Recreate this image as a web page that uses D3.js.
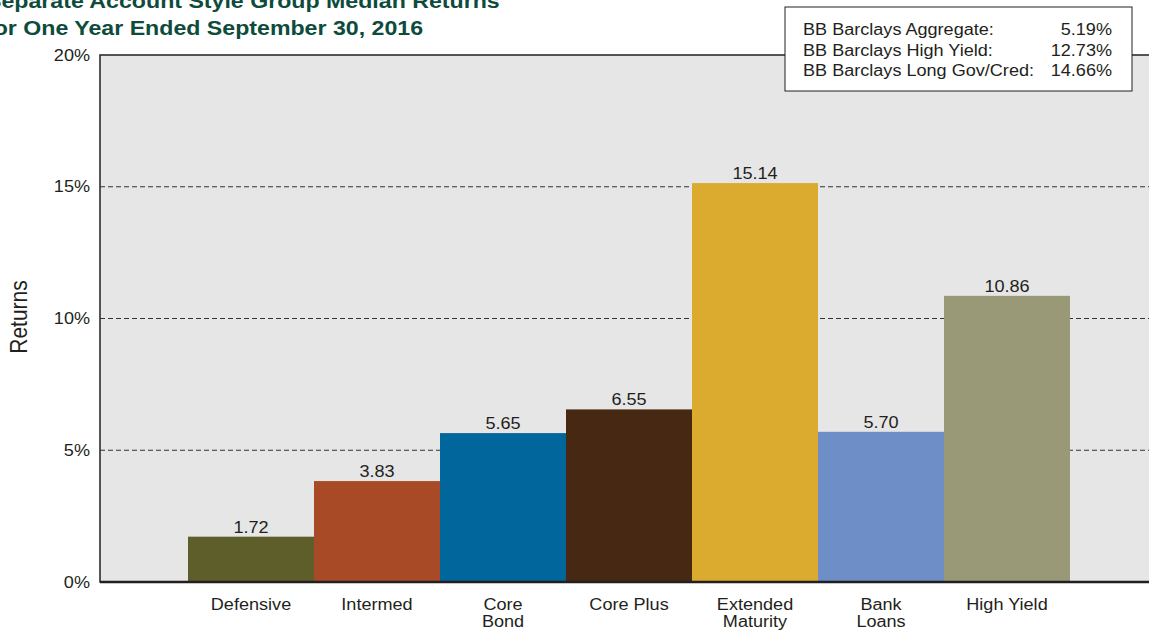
<!DOCTYPE html>
<html><head><meta charset="utf-8">
<script src="https://cdn.jsdelivr.net/npm/d3@7"></script>
<style>
body{margin:0;background:#fff;}
svg{display:block;font-family:"Liberation Sans",Arial,sans-serif;}
</style></head>
<body>
<svg id="chart" width="1149" height="630"></svg>
<script>
const categories = ["Defensive","Intermed","Core\nBond","Core Plus","Extended\nMaturity","Bank\nLoans","High Yield"];
const values = [1.72, 3.83, 5.65, 6.55, 15.14, 5.70, 10.86];
const colors = ["#5e5e2a","#a84a26","#00669c","#472913","#dbab2f","#6e8ec8","#999877"];
const yTicks = [0, 5, 10, 15, 20];
const titleLines = ["Separate Account Style Group Median Returns","for One Year Ended September 30, 2016"];
const legendLabels = ["BB Barclays Aggregate:","BB Barclays High Yield:","BB Barclays Long Gov/Cred:"];
const legendValues = ["5.19%","12.73%","14.66%"];

const SX = 1.13; // horizontal stretch of the reference text
const svg = d3.select("#chart");
const plot = {left:100, right:1165, top:55, bottom:582};
const x = d3.scaleBand().domain(categories).range([188, 1070]).padding(0);
const y = d3.scaleLinear().domain([0,20]).range([plot.bottom, plot.top]);

function stext(g, px, py, str, size, anchor, extra){
  const t = g.append("text")
    .attr("transform",`translate(${px},${py}) scale(${SX},1)` + (extra||""))
    .attr("text-anchor",anchor).attr("font-size",size).attr("fill","#231f20").text(str);
  return t;
}

svg.append("rect").attr("x",plot.left).attr("y",plot.top)
  .attr("width",plot.right-plot.left).attr("height",plot.bottom-plot.top)
  .attr("fill","#e6e6e6").attr("stroke","#231f20").attr("stroke-width",1.5);

// gridlines
svg.append("g").selectAll("line").data(yTicks.filter(d=>d>0 && d<20)).join("line")
  .attr("x1",plot.left).attr("x2",plot.right)
  .attr("y1",d=>y(d)).attr("y2",d=>y(d))
  .attr("stroke","#333").attr("stroke-width",1).attr("stroke-dasharray","5,3");

// bars
svg.append("g").selectAll("rect").data(values).join("rect")
  .attr("x",(d,i)=>x(categories[i]))
  .attr("width",x.bandwidth())
  .attr("y",d=>y(d)).attr("height",d=>y(0)-y(d))
  .attr("fill",(d,i)=>colors[i]);

// bottom axis line
svg.append("line").attr("x1",plot.left).attr("x2",plot.right)
  .attr("y1",plot.bottom).attr("y2",plot.bottom)
  .attr("stroke","#231f20").attr("stroke-width",2.5);

// value labels
const vg = svg.append("g");
values.forEach((d,i)=>{
  stext(vg, x(categories[i])+x.bandwidth()/2, y(d)-4, d.toFixed(2), 16, "middle");
});

// y axis tick labels
const yg = svg.append("g");
yTicks.forEach(d=>{
  stext(yg, plot.left-10, y(d)+5.5, d+"%", 16, "end");
});

// x category labels
const xg = svg.append("g");
categories.forEach((c,i)=>{
  c.split("\n").forEach((ln,j)=>{
    stext(xg, x(c)+x.bandwidth()/2, 610+j*17, ln, 16, "middle");
  });
});

// y axis title
stext(svg, 27, 317, "Returns", 21, "middle", " rotate(-90)");

// title
titleLines.forEach((t,i)=>{
  stext(svg, -14, 8+i*27, t, 20.5, "start").attr("font-weight","bold").attr("fill","#0d4c3c");
});

// legend box
const lg = svg.append("g");
lg.append("rect").attr("x",785).attr("y",7).attr("width",347).attr("height",84)
  .attr("fill","#fff").attr("stroke","#231f20").attr("stroke-width",1);
legendLabels.forEach((l,i)=>{
  stext(lg, 803, 35+i*20.5, l, 16, "start");
  stext(lg, 1112, 35+i*20.5, legendValues[i], 16, "end");
});
</script>
</body></html>
